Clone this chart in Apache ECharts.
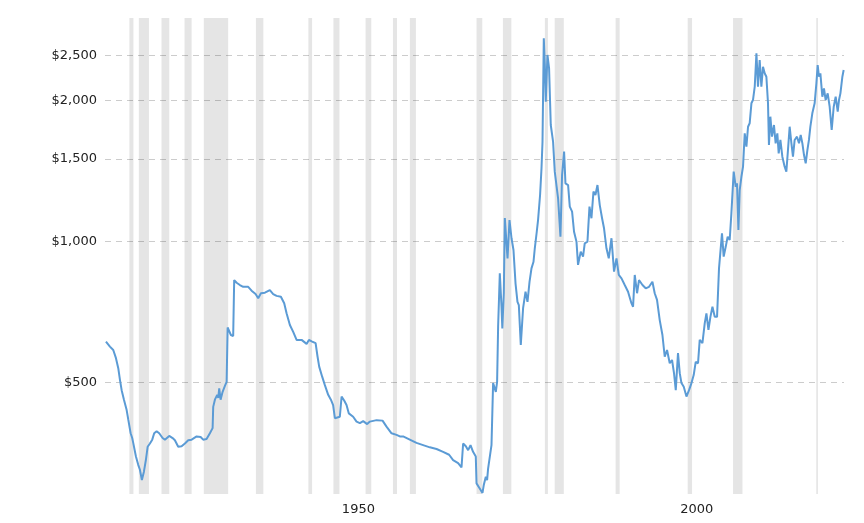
<!DOCTYPE html>
<html>
<head>
<meta charset="utf-8">
<script src="https://cdn.jsdelivr.net/npm/echarts@6/dist/echarts.min.js"></script>
<style>
html,body{margin:0;padding:0;background:#fff;}
#c{width:864px;height:523px;}
</style>
</head>
<body>
<div id="c"></div>
<script>
// Inflation-adjusted gold price (USD/oz)
const years = [1915.14,1915.73,1916.22,1916.62,1916.96,1917.21,1917.46,1917.8,1918.2,1918.44,1918.79,1919.02,1919.17,1919.57,1919.91,1920.16,1920.45,1920.75,1921.04,1921.3,1921.64,1921.98,1922.27,1922.63,1923.01,1923.51,1923.85,1924.49,1924.99,1925.33,1925.82,1926.32,1926.81,1927.3,1927.8,1928.54,1929.13,1929.51,1930.01,1930.5,1930.9,1930.99,1931.24,1931.58,1931.73,1931.88,1932.08,1932.38,1932.72,1932.97,1933.12,1933.38,1933.6,1933.94,1934.09,1934.45,1934.93,1935.42,1936.16,1936.66,1937.25,1937.64,1938.04,1938.63,1939.36,1939.85,1940.35,1940.99,1941.48,1941.83,1942.32,1942.81,1943.31,1944.05,1944.79,1945.13,1945.61,1946.12,1946.41,1946.65,1947.09,1947.49,1947.98,1948.38,1948.71,1948.97,1949.7,1949.96,1950.34,1950.69,1951.03,1951.67,1952.17,1952.66,1953.15,1953.74,1954.14,1955.13,1956.01,1956.6,1957.34,1958.08,1958.57,1959.05,1960.04,1961.03,1962.01,1963.0,1963.99,1964.96,1965.85,1966.44,1967.18,1967.68,1967.92,1968.32,1968.66,1969.01,1969.39,1969.79,1969.9,1970.28,1970.78,1970.98,1971.27,1971.46,1971.61,1971.86,1972.11,1972.35,1972.6,1972.75,1972.94,1973.09,1973.34,1973.59,1973.71,1973.93,1974.08,1974.48,1974.77,1975.07,1975.36,1975.66,1975.95,1976.15,1976.44,1976.78,1977.14,1977.43,1977.73,1978.02,1978.32,1978.51,1978.8,1978.99,1979.29,1979.5,1979.65,1979.84,1979.99,1980.13,1980.38,1980.62,1980.87,1981.21,1981.46,1981.71,1981.95,1982.3,1982.54,1982.84,1983.04,1983.43,1983.68,1984.02,1984.31,1984.67,1984.9,1985.3,1985.64,1985.89,1986.29,1986.59,1986.88,1987.18,1987.47,1987.77,1988.11,1988.45,1988.74,1989.1,1989.44,1989.84,1990.22,1990.58,1990.92,1991.32,1991.8,1992.29,1992.79,1993.03,1993.28,1993.62,1993.91,1994.42,1994.9,1995.39,1995.89,1996.23,1996.57,1996.97,1997.37,1997.71,1998.05,1998.45,1998.79,1999.08,1999.34,1999.67,1999.93,2000.18,2000.52,2000.92,2001.3,2001.66,2001.99,2002.29,2002.63,2002.88,2003.28,2003.62,2003.87,2004.17,2004.46,2004.76,2005.1,2005.44,2005.73,2005.98,2006.17,2006.42,2006.72,2007.01,2007.31,2007.56,2007.9,2008.2,2008.39,2008.6,2008.79,2009.04,2009.28,2009.53,2009.78,2010.02,2010.26,2010.52,2010.75,2011.01,2011.26,2011.49,2011.74,2011.99,2012.23,2012.48,2012.73,2012.97,2013.11,2013.32,2013.56,2013.85,2014.1,2014.35,2014.55,2014.8,2015.09,2015.43,2015.68,2015.92,2016.17,2016.43,2016.66,2016.91,2017.25,2017.55,2017.8,2018.05,2018.29,2018.54,2018.79,2019.02,2019.23,2019.52,2019.86,2020.12,2020.31,2020.5,2020.71,2021.0,2021.24,2021.49,2021.79,2022.08,2022.38,2022.68,2022.97,2023.27,2023.46,2023.67,2023.96,2024.15];
const prices = [611,596,586,563,536,506,481,459,436,416,389,380,371,347,333,325,309,322,341,364,370,377,389,393,389,380,377,384,380,376,364,365,370,376,377,383,382,377,378,389,399,443,459,470,463,485,459,477,491,501,655,660,631,628,827,816,807,800,800,785,772,756,775,777,787,772,765,762,738,702,663,641,616,616,604,616,611,606,567,540,514,493,470,459,447,419,422,466,457,447,429,422,412,409,413,407,412,415,414,402,389,386,383,383,377,371,367,363,360,355,350,341,336,329,370,365,358,367,355,347,304,298,290,302,314,309,327,325,367,498,501,477,501,657,855,725,652,775,1122,920,1111,1016,959,814,743,731,601,720,781,743,820,876,905,967,1049,1111,1257,1433,1634,2718,2383,1989,2504,2345,1774,1634,1410,1398,1237,1024,1387,1556,1331,1320,1187,1158,1049,999,891,951,928,991,999,1187,1121,1278,1257,1320,1196,1121,1067,967,920,1016,862,920,848,834,807,781,738,725,848,775,827,807,794,800,820,775,750,679,631,567,586,549,558,523,481,577,523,498,489,466,481,498,518,553,549,616,606,668,702,647,690,725,690,690,876,883,1041,928,974,1024,1007,1149,1410,1309,1331,1058,1288,1375,1445,1703,1594,1759,1789,1974,2006,2142,2524,2142,2442,2142,2363,2288,2250,1974,1608,1848,1675,1774,1621,1703,1543,1648,1518,1445,1410,1568,1759,1621,1518,1648,1675,1621,1689,1621,1530,1469,1568,1648,1759,1879,1974,2178,2383,2250,2288,2039,2125,2006,2073,1941,1731,1941,2039,1894,2006,2073,2250,2325];
// US recessions (start, end) as decimal years
const recessions = [[1918.6,1919.2],[1920.0,1921.5],[1923.35,1924.5],[1926.75,1927.8],[1929.6,1933.2],[1937.3,1938.4],[1945.05,1945.6],[1948.75,1949.65],[1953.5,1954.35],[1957.55,1958.15],[1960.05,1960.95],[1969.9,1970.75],[1973.8,1975.05],[1980.0,1980.45],[1981.45,1982.8],[1990.45,1991.05],[2001.1,2001.75],[2007.8,2009.2],[2020.1,2020.35]];
const xTicks = [1950, 2000];
const yTicks = [500, 1000, 1500, 2000, 2500];

const chart = echarts.init(document.getElementById('c'), null, {renderer: 'canvas'});
const labelFont = {fontFamily: 'DejaVu Sans', fontSize: 13, color: '#222'};
chart.setOption({
  animation: false,
  grid: {left: 105, right: 20, top: 18, bottom: 29},
  xAxis: {
    type: 'value', min: 1915, max: 2024.2,
    axisLine: {show: false}, axisTick: {show: false}, splitLine: {show: false},
    axisLabel: Object.assign({customValues: xTicks, formatter: v => String(v), align: 'left', margin: 9}, labelFont)
  },
  yAxis: {
    type: 'log', min: 288.5, max: 3004,
    axisLine: {show: false},
    axisTick: {show: false, customValues: yTicks},
    axisLabel: Object.assign({customValues: yTicks, margin: 8,
      formatter: v => '$' + Math.round(v).toLocaleString('en-US')}, labelFont),
    splitLine: {show: true, lineStyle: {type: [6, 5], color: '#cccccc', width: 1}}
  },
  series: [{
    type: 'line',
    data: years.map((y, i) => [y, prices[i]]),
    showSymbol: false,
    lineStyle: {color: '#5b9bd5', width: 2},
    markArea: {
      silent: true,
      itemStyle: {color: 'rgba(0,0,0,0.1)'},
      data: recessions.map(r => [{xAxis: r[0]}, {xAxis: r[1]}])
    }
  }]
});
</script>
</body>
</html>
